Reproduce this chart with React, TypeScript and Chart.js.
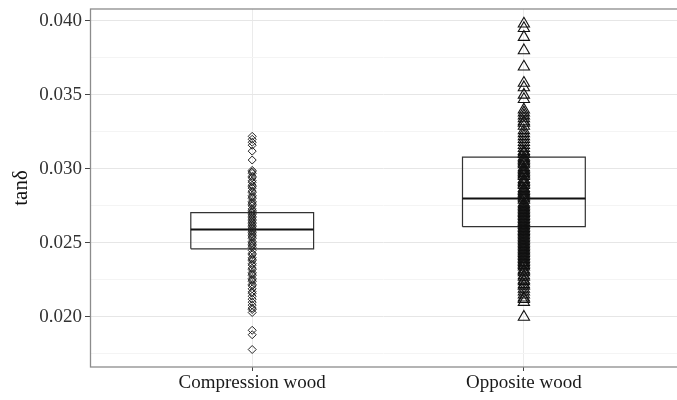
import React, { useEffect, useRef } from "react";
import { Chart, registerables } from "chart.js";

Chart.register(...registerables);

const categories = ["Compression wood", "Opposite wood"];
const categoryX = [1, 2];

const boxQ1 = [0.0246, 0.0261];
const boxMedian = [0.0259, 0.0280];
const boxQ3 = [0.02705, 0.0308];
const boxHalfWidth = 0.226;

const compressionValues = [
  0.0322, 0.0320, 0.0318, 0.0316, 0.0312, 0.0306, 0.0299, 0.0298, 0.0297,
  0.0295, 0.0294, 0.0292, 0.0291, 0.0289, 0.0288, 0.0287, 0.0285, 0.0284,
  0.0282, 0.0281, 0.0280, 0.0278, 0.0277, 0.0276, 0.0275, 0.0273, 0.0272,
  0.0271, 0.0270, 0.0269, 0.0268, 0.0267, 0.0266, 0.0265, 0.0264, 0.0263,
  0.0262, 0.0261, 0.0260, 0.0259, 0.0258, 0.0257, 0.0256, 0.0255, 0.0254,
  0.0253, 0.0251, 0.0250, 0.0249, 0.0248, 0.0247, 0.0245, 0.0243, 0.0242,
  0.0240, 0.0239, 0.0238, 0.0236, 0.0235, 0.0233, 0.0232, 0.0230, 0.0229,
  0.0228, 0.0226, 0.0225, 0.0224, 0.0222, 0.0221, 0.0219, 0.0217, 0.0216,
  0.0214, 0.0212, 0.0210, 0.0208, 0.0206, 0.0205, 0.0203, 0.0191, 0.0188,
  0.0178,
];

const oppositeValues = [
  0.0398, 0.0395, 0.0389, 0.0380, 0.0369, 0.0358, 0.0355, 0.0350, 0.0347,
  0.0340, 0.0338, 0.0336, 0.0334, 0.0332, 0.0331, 0.0329, 0.0326, 0.0324,
  0.0322, 0.0320, 0.0318, 0.0316, 0.0314, 0.0312, 0.0311, 0.0310, 0.0308,
  0.0307, 0.0306, 0.0305, 0.0304, 0.0303, 0.0301, 0.0300, 0.0299, 0.0298,
  0.0297, 0.0296, 0.0295, 0.0293, 0.0292, 0.0291, 0.0290, 0.0289, 0.0287,
  0.0286, 0.0285, 0.0284, 0.0283, 0.0282, 0.0281, 0.0280, 0.0279, 0.0277,
  0.0276, 0.0275, 0.0274, 0.0273, 0.0272, 0.0271, 0.0270, 0.0269, 0.0268,
  0.0267, 0.0266, 0.0265, 0.0264, 0.0263, 0.0262, 0.0261, 0.0260, 0.0259,
  0.0258, 0.0257, 0.0256, 0.0255, 0.0254, 0.0253, 0.0252, 0.0251, 0.0250,
  0.0249, 0.0248, 0.0247, 0.0246, 0.0245, 0.0244, 0.0243, 0.0242, 0.0241,
  0.0240, 0.0239, 0.0238, 0.0237, 0.0236, 0.0235, 0.0234, 0.0232, 0.0231,
  0.0230, 0.0228, 0.0227, 0.0225, 0.0224, 0.0222, 0.0221, 0.0219, 0.0217,
  0.0215, 0.0213, 0.0212, 0.0210, 0.0200,
];

const yTicks = [0.0175, 0.02, 0.0225, 0.025, 0.0275, 0.03, 0.0325, 0.035, 0.0375, 0.04];
const yMin = 0.01662;
const yMax = 0.0408;
const xMin = 0.403;
const xMax = 2.5635;

const isMajor = (v: number) => Math.abs(v * 200 - Math.round(v * 200)) < 1e-6;

const panelBorder = {
  id: "panelBorder",
  afterDatasetsDraw(chart: any) {
    const { ctx, chartArea } = chart;
    ctx.save();
    ctx.strokeStyle = "#8c8c8c";
    ctx.lineWidth = 1.3;
    ctx.strokeRect(chartArea.left + 0.5, chartArea.top, chartArea.right - chartArea.left + 4, chartArea.bottom - chartArea.top);
    ctx.restore();
  },
};

const zeroPadding = (scale: any) => {
  scale.paddingTop = 0;
  scale.paddingBottom = 0;
  scale.paddingLeft = 0;
  scale.paddingRight = 0;
};

export default function App() {
  const ref = useRef<HTMLCanvasElement | null>(null);

  useEffect(() => {
    document.body.style.margin = "0";
    const boxes = categoryX.map((x, i) => ({
      type: "scatter" as const,
      data: [
        { x: x - boxHalfWidth, y: boxQ1[i] },
        { x: x + boxHalfWidth, y: boxQ1[i] },
        { x: x + boxHalfWidth, y: boxQ3[i] },
        { x: x - boxHalfWidth, y: boxQ3[i] },
        { x: x - boxHalfWidth, y: boxQ1[i] },
      ],
      showLine: true,
      borderColor: "#333333",
      borderWidth: 1.2,
      pointRadius: 0,
      fill: false,
    }));
    const medians = categoryX.map((x, i) => ({
      type: "scatter" as const,
      data: [
        { x: x - boxHalfWidth, y: boxMedian[i] },
        { x: x + boxHalfWidth, y: boxMedian[i] },
      ],
      showLine: true,
      borderColor: "#111111",
      borderWidth: 2,
      pointRadius: 0,
      fill: false,
    }));
    const chart = new Chart(ref.current as HTMLCanvasElement, {
      type: "scatter",
      data: {
        datasets: [
          {
            data: compressionValues.map((v) => ({ x: categoryX[0], y: v })),
            pointStyle: "rectRot",
            pointRadius: 4,
            borderColor: "#222222",
            backgroundColor: "rgba(0,0,0,0)",
            borderWidth: 1,
          },
          {
            data: oppositeValues.map((v) => ({ x: categoryX[1], y: v })),
            pointStyle: "triangle",
            pointRadius: 6.5,
            borderColor: "#111111",
            backgroundColor: "rgba(0,0,0,0)",
            borderWidth: 1.1,
          },
          ...medians,
          ...boxes,
        ] as any,
      },
      options: {
        animation: false,
        responsive: true,
        maintainAspectRatio: false,
        layout: { autoPadding: false, padding: { top: 9, right: 0, left: 0, bottom: 0 } },
        plugins: { legend: { display: false }, tooltip: { enabled: false } },
        scales: {
          x: {
            type: "linear",
            min: xMin,
            max: xMax,
            afterBuildTicks: (scale: any) => {
              scale.ticks = categoryX.map((v) => ({ value: v }));
            },
            afterFit: (scale: any) => {
              scale.height = 33;
              zeroPadding(scale);
            },
            ticks: {
              callback: (v: any) => categories[Number(v) - 1] ?? "",
              color: "#1a1a1a",
              font: { family: "Liberation Serif", size: 19 },
              padding: 1,
              maxRotation: 0,
              autoSkip: false,
            },
            grid: { color: "#ebebeb", tickColor: "#444444", tickLength: 4, lineWidth: 1 },
            border: { display: false },
          },
          y: {
            type: "linear",
            min: yMin,
            max: yMax,
            afterBuildTicks: (scale: any) => {
              scale.ticks = yTicks.map((v) => ({ value: v }));
            },
            afterFit: (scale: any) => {
              scale.width = 90;
              zeroPadding(scale);
            },
            ticks: {
              callback: (v: any) => (isMajor(Number(v)) ? Number(v).toFixed(3) : ""),
              color: "#333333",
              font: { family: "Liberation Serif", size: 19 },
              padding: 3,
              autoSkip: false,
            },
            grid: {
              color: (ctx: any) => (ctx.tick && isMajor(ctx.tick.value) ? "#e6e6e6" : "#f4f4f4"),
              tickColor: (ctx: any) => (ctx.tick && isMajor(ctx.tick.value) ? "#444444" : "rgba(0,0,0,0)"),
              tickLength: 5,
              lineWidth: 1,
            },
            border: { display: false },
            title: {
              display: true,
              text: "tanδ",
              color: "#111111",
              font: { family: "Liberation Serif", size: 21 },
              padding: { top: 9, bottom: 0 },
            },
          },
        },
      },
      plugins: [panelBorder],
    } as any);
    return () => chart.destroy();
  }, []);

  return (
    <div style={{ width: 677, height: 400, position: "relative", background: "#ffffff" }}>
      <canvas ref={ref} />
    </div>
  );
}
